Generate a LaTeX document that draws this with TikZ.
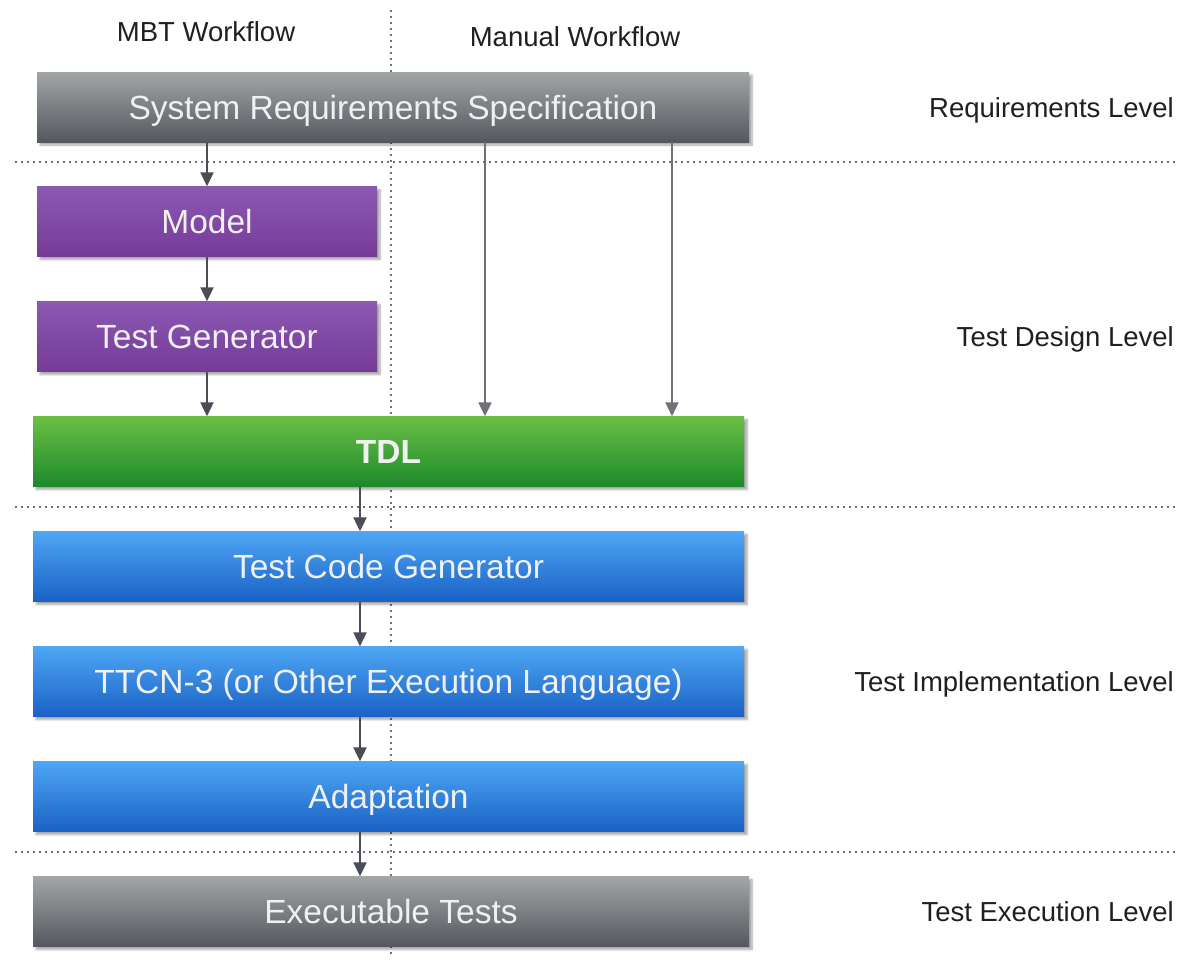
\documentclass[tikz,border=0pt]{standalone}
\usepackage{fontspec}
\setmainfont{Liberation Sans}
\usetikzlibrary{shadows.blur,arrows.meta}

\definecolor{graytop}{HTML}{A3A6A7}
\definecolor{graybot}{HTML}{54575D}
\definecolor{purptop}{HTML}{8B58B3}
\definecolor{purpbot}{HTML}{763B9A}
\definecolor{greentop}{HTML}{6CBF45}
\definecolor{greenbot}{HTML}{1B8A2B}
\definecolor{bluetop}{HTML}{4EA6F4}
\definecolor{bluebot}{HTML}{1A62C5}
\definecolor{arrowgray}{HTML}{4A4D55}
\definecolor{dotgray}{HTML}{6E7075}

\tikzset{
  box/.style={rectangle, minimum height=70pt, inner sep=0pt,
    text height=24pt, text depth=0pt,
    text=white!94!black, font=\fontsize{33.5}{38}\selectfont,
    blur shadow={shadow xshift=3pt, shadow yshift=-3pt, shadow blur steps=6, shadow opacity=35}},
  graybox/.style={box, top color=graytop, bottom color=graybot},
  purplebox/.style={box, top color=purptop, bottom color=purpbot},
  greenbox/.style={box, top color=greentop, bottom color=greenbot},
  bluebox/.style={box, top color=bluetop, bottom color=bluebot},
  flow/.style={draw=arrowgray, line width=2.2pt,
    -{Triangle[length=14pt, width=13pt]}},
  sideflow/.style={flow, draw=arrowgray!80!white},
  levelsep/.style={draw=dotgray, line width=2.2pt, dash pattern=on 2pt off 4pt},
  heading/.style={font=\fontsize{27.5}{32}\selectfont, text=black!88, inner sep=0pt,
    text height=20pt, text depth=0pt},
  levellabel/.style={heading, anchor=east}
}

\begin{document}
\begin{tikzpicture}[x=1pt, y=-1pt]
  \useasboundingbox (0,0) rectangle (1179,962);

  % workflow divider and level separators
  \draw[levelsep] (391,10) -- (391,955);
  \draw[levelsep] (15,162) -- (1176,162);
  \draw[levelsep] (15,507) -- (1176,507);
  \draw[levelsep] (15,852) -- (1176,852);

  % column headings
  \node[heading] (mbt) at (206,31) {MBT Workflow};
  \node[heading] (manual) at (575,36) {Manual Workflow};

  % level labels
  \node[levellabel] (lreq) at (1174,107) {Requirements Level};
  \node[levellabel] (ldesign) at (1174,336) {Test Design Level};
  \node[levellabel] (limpl) at (1174,681) {Test Implementation Level};
  \node[levellabel] (lexec) at (1174,911) {Test Execution Level};

  % process boxes
  \node[graybox, minimum width=712pt] (srs) at (393,107) {System Requirements Specification};
  \node[purplebox, minimum width=340pt] (model) at (207,221.5) {Model};
  \node[purplebox, minimum width=340pt] (tgen) at (207,336.5) {Test Generator};
  \node[greenbox, minimum width=711pt] (tdl) at (388.5,451.5) {\textbf{TDL}};
  \node[bluebox, minimum width=711pt] (tcg) at (388.5,566.5) {Test Code Generator};
  \node[bluebox, minimum width=711pt] (ttcn) at (388.5,681.5) {TTCN-3 (or Other Execution Language)};
  \node[bluebox, minimum width=711pt] (adapt) at (388.5,796.5) {Adaptation};
  \node[graybox, minimum width=716pt] (exec) at (391,911.5) {Executable Tests};

  % MBT path
  \draw[flow] (srs.south -| model.north) -- (model.north);
  \draw[flow] (model) -- (tgen);
  \draw[flow] (tgen.south) -- (tdl.north -| tgen.south);

  % manual paths
  \draw[sideflow] (srs.south -| 485,0) -- (tdl.north -| 485,0);
  \draw[sideflow] (srs.south -| 672,0) -- (tdl.north -| 672,0);

  % implementation chain
  \draw[flow] (tdl.south -| 360,0) -- (tcg.north -| 360,0);
  \draw[flow] (tcg.south -| 360,0) -- (ttcn.north -| 360,0);
  \draw[flow] (ttcn.south -| 360,0) -- (adapt.north -| 360,0);
  \draw[flow] (adapt.south -| 360,0) -- (exec.north -| 360,0);
\end{tikzpicture}
\end{document}
